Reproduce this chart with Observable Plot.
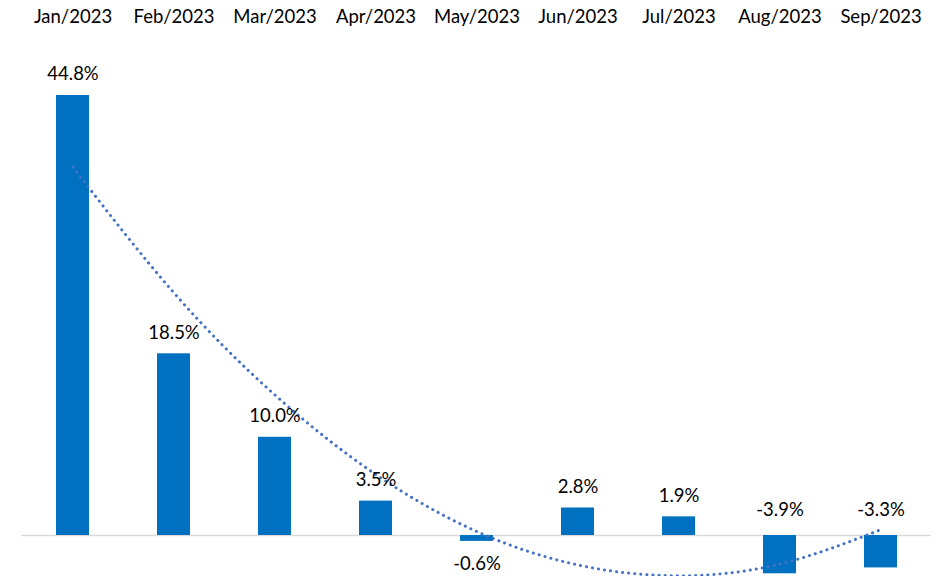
<!DOCTYPE html>
<html>
<head>
<meta charset="utf-8">
<script src="https://cdn.jsdelivr.net/npm/d3@7"></script>
<script src="https://cdn.jsdelivr.net/npm/@observablehq/plot@0.6"></script>
<style>
  html, body { margin: 0; padding: 0; background: #fff; }
  #chart svg { display: block; }
</style>
</head>
<body>
<div id="chart"></div>
<script>
const months = ["Jan/2023","Feb/2023","Mar/2023","Apr/2023","May/2023","Jun/2023","Jul/2023","Aug/2023","Sep/2023"];
const values = [44.8, 18.5, 10.0, 3.5, -0.6, 2.8, 1.9, -3.9, -3.3];
const labels = ["44.8%","18.5%","10.0%","3.5%","-0.6%","2.8%","1.9%","-3.9%","-3.3%"];
// polynomial (order 2) trendline values read at each month
const trend = [37.5, 24.7, 14.3, 6.2, 0.4, -3.0, -4.1, -2.9, 0.6];

const data = months.map((m, i) => ({month: m, value: values[i], label: labels[i], trend: trend[i]}));
const pos = data.filter(d => d.value >= 0);
const negSmall = data.filter(d => d.value < 0 && d.value > -2);
const negBig = data.filter(d => d.value <= -2);

const W = 945, H = 576;
const font = "Lato, 'Open Sans', sans-serif";
const fs = 18.5;

const chart = Plot.plot({
  width: W,
  height: H,
  marginLeft: 21,
  marginRight: 14,
  marginTop: 0,
  marginBottom: 0,
  style: {fontFamily: font, background: "#fff"},
  x: {domain: months, paddingInner: 0.675, paddingOuter: 0.3375, axis: null},
  y: {domain: [0, 44.8], range: [535, 95], axis: null},
  marks: [
    Plot.ruleY([0], {stroke: "#d9d9d9", strokeWidth: 1.5}),
    Plot.barY(data, {x: "month", y: "value", fill: "#0070c0"}),
    Plot.line(data, {
      x: "month", y: "trend", stroke: "#4472c4", strokeWidth: 3,
      strokeDasharray: "0.1 6", strokeLinecap: "round", curve: "natural", clip: true
    }),
    Plot.text(months, {x: d => d, frameAnchor: "top", dy: 17, lineAnchor: "middle", fontSize: fs, fill: "#000"}),
    Plot.text(pos, {x: "month", y: "value", text: "label", dy: -21, lineAnchor: "middle", fontSize: fs, fill: "#000"}),
    Plot.text(negSmall, {x: "month", y: "value", text: "label", dy: 23, lineAnchor: "middle", fontSize: fs, fill: "#000"}),
    Plot.text(negBig, {x: "month", y: 0, text: "label", dy: -25, lineAnchor: "middle", fontSize: fs, fill: "#000"})
  ]
});
document.getElementById("chart").appendChild(chart);
</script>
</body>
</html>
